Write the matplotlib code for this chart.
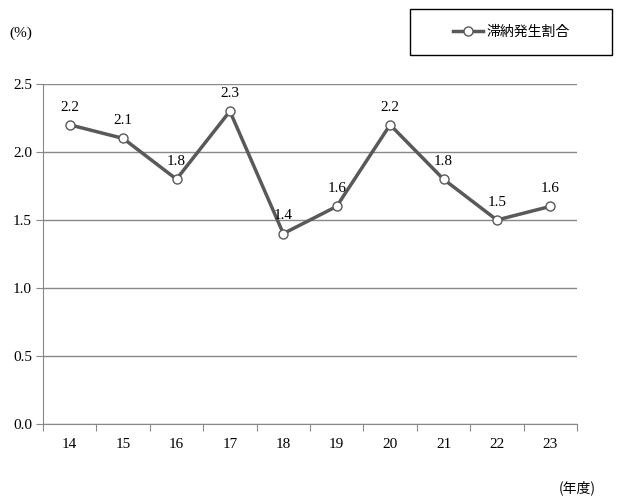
import matplotlib.pyplot as plt
from matplotlib.patches import Rectangle

years = ['14', '15', '16', '17', '18', '19', '20', '21', '22', '23']
rate = [2.2, 2.1, 1.8, 2.3, 1.4, 1.6, 2.2, 1.8, 1.5, 1.6]
yticks = [0.0, 0.5, 1.0, 1.5, 2.0, 2.5]

serif = ['Liberation Serif', 'DejaVu Serif']
jp = ['Noto Sans CJK JP', 'DejaVu Sans']
grey = '#595959'

fig = plt.figure(figsize=(6.2, 5.03), dpi=100)
ax = fig.add_axes([43 / 620, 79 / 503, 534 / 620, 340 / 503])

x = list(range(len(years)))
ax.plot(x, rate, color=grey, lw=2.5, marker='o', ms=6.5,
        mfc='white', mec=grey, mew=1, label='滞納発生割合', zorder=3)
for xi, v in zip(x, rate):
    ax.annotate(f'{v:.1f}', (xi, v), xytext=(0, 8), textcoords='offset points',
                ha='center', va='bottom', fontsize=11, family=serif)

ax.set_xlim(-0.5, len(years) - 0.5)
ax.set_ylim(0, 2.5)
ax.set_yticks(yticks)
ax.set_yticklabels([f'{v:.1f}' for v in yticks], family=serif, fontsize=11)
ax.set_xticks([i - 0.5 for i in range(len(years) + 1)], minor=False)
ax.set_xticklabels([])
ax.set_xticks(x, minor=True)
ax.set_xticklabels(years, minor=True, family=serif, fontsize=11)
ax.tick_params(axis='x', which='major', length=5, color='#888888')
ax.tick_params(axis='x', which='minor', length=0, pad=10)
ax.tick_params(axis='y', length=5, color='#888888', pad=3)

ax.grid(axis='y', color='#888888', lw=1)
ax.set_axisbelow(True)
for s in ['top', 'right']:
    ax.spines[s].set_visible(False)
for s in ['left', 'bottom']:
    ax.spines[s].set_color('#888888')

fig.text(21 / 620, 1 - 33 / 503, '(%)', family=serif, fontsize=11, ha='center', va='center')
fig.text(577 / 620, 1 - 488 / 503, '(年度)', family=jp, fontsize=10, ha='center', va='center')

fig.patches.append(Rectangle((410 / 620, 1 - 55 / 503), 202 / 620, 46 / 503,
                             transform=fig.transFigure, fill=False, ec='black', lw=1))
fig.legend(loc='center', bbox_to_anchor=(511 / 620, 1 - 32 / 503), frameon=False,
           prop={'family': jp, 'size': 10}, handlelength=2.2, handletextpad=0.2)

fig.savefig('out.png', dpi=100, facecolor='white')
